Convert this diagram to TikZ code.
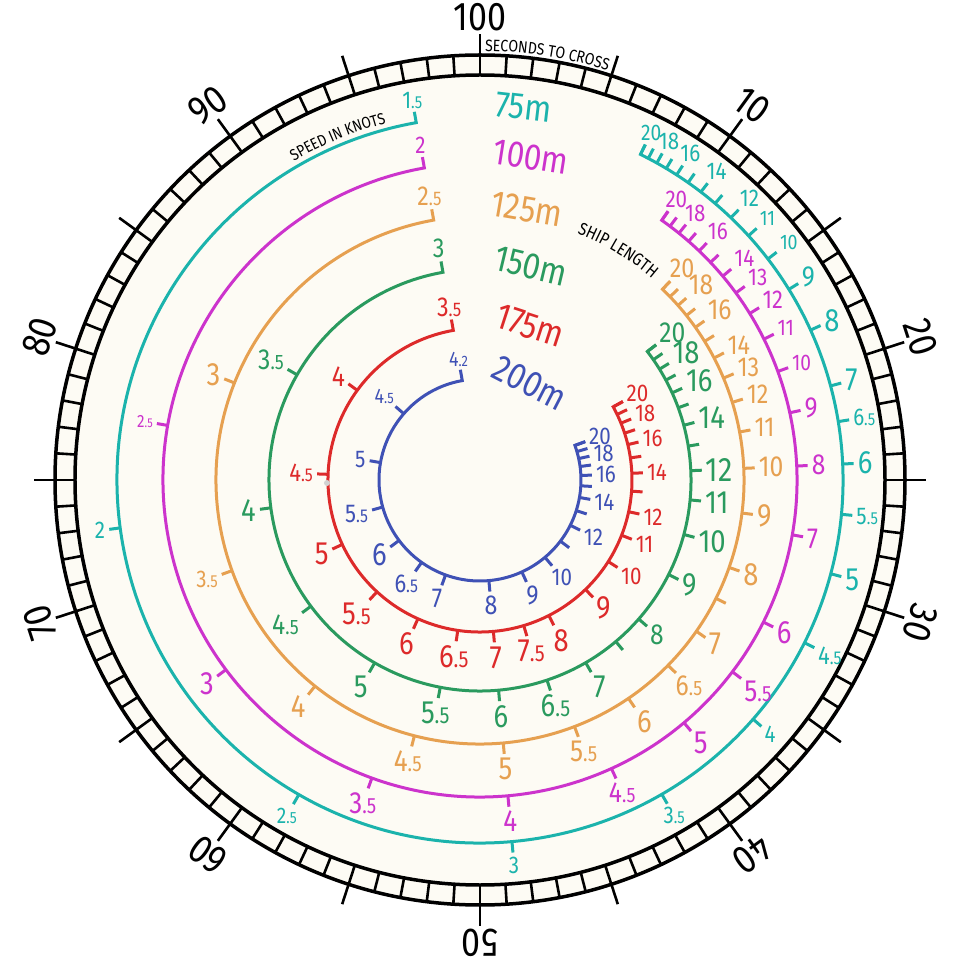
\documentclass[tikz,border=0pt]{standalone}
\usepackage{fontspec}
\setmainfont{Fira Sans}[FakeStretch=0.85]
\usetikzlibrary{decorations.text}
\definecolor{cteal}{HTML}{1BB3AC}
\definecolor{cmag}{HTML}{CC33CC}
\definecolor{corange}{HTML}{E6A050}
\definecolor{cgreen}{HTML}{2A9A5E}
\definecolor{cred}{HTML}{DD2A2A}
\definecolor{cblue}{HTML}{3F51B5}
\definecolor{cream}{HTML}{FDFBF4}
\newcommand\hf[1]{#1\scalebox{0.72}{.5}}
\newcommand\dd[2]{#1\scalebox{0.72}{.#2}}
\tikzset{
  arcln/.style={line width=3pt, line join=miter},
  lab/.style={inner sep=0pt},
  ringlab/.style={inner sep=0pt, font=\fontsize{40}{40}\selectfont},
  lenlab/.style={inner sep=0pt, font=\fontsize{37}{37}\selectfont}
}
\newcommand\shiparc[7]{%
  \pgfmathsetmacro\angS{90-3.6*#1/(#4*0.514444)}%
  \pgfmathsetmacro\angE{90-3.6*#1/(20*0.514444)}%
  \pgfmathsetmacro\ancS{mod(\angS+540,360)}%
  \pgfmathsetmacro\fsS{#6/0.62}%
  \draw[arcln, draw=#3] (\angS:{#2+11}) -- (\angS:#2) arc[start angle=\angS, end angle=\angE, radius=#2] -- (\angE:{#2+11});
  \node[lab, text=#3, anchor=\ancS, font=\fontsize{\fsS}{\fsS}\selectfont] (st#1) at (\angS:{#2+14}) {#5};
  \foreach \sv/\st/\ss [count=\ci] in {#7}{%
    \pgfmathsetmacro\myang{90-3.6*#1/(\sv*0.514444)}%
    \pgfmathsetmacro\myanc{mod(\myang+540,360)}%
    \pgfmathsetmacro\myfs{\ss/0.62}%
    \draw[arcln, draw=#3] (\myang:#2) -- (\myang:{#2+11});
    \node[lab, text=#3, anchor=\myanc, font=\fontsize{\myfs}{\myfs}\selectfont] (t#1-\ci) at (\myang:{#2+15}) {\st};
  }%
}
\begin{document}
\begin{tikzpicture}[x=1pt,y=1pt]
\useasboundingbox (-480,-480) rectangle (480,480);
\fill[cream] (0,0) circle[radius=425];
% ring
\foreach \k in {0,...,99} \draw[line width=2.6pt] ({90-3.6*\k}:404) -- ({90-3.6*\k}:426);
\draw[line width=3.5pt] (0,0) circle[radius=405];
\draw[line width=3.5pt] (0,0) circle[radius=425];
\foreach \k in {0,5,...,95} \draw[line width=2.6pt] ({90-3.6*\k}:425) -- ({90-3.6*\k}:446);
\foreach \k/\t in {0/100,1/10,2/20,3/30,4/40,5/50,6/60,7/70,8/80,9/90}
  \node[ringlab, rotate=-36*\k] (r\k) at ({90-36*\k}:463) {\t};
% titles
\path[decorate, decoration={text along path, text align=center,
  text={|\fontsize{16.5}{16.5}\selectfont|SECONDS TO CROSS}}]
  (90:429) arc[start angle=90, end angle=72, radius=429];
\path[decorate, decoration={text along path, text align=center,
  text={|\fontsize{16}{16}\selectfont|SPEED IN KNOTS}}]
  (122:369) arc[start angle=122, end angle=103, radius=369];
\path[decorate, decoration={text along path, text align=center,
  text={|\fontsize{17.5}{17.5}\selectfont|SHIP LENGTH}}]
  (71:265) arc[start angle=71, end angle=47, radius=265];
% arcs
\shiparc{75}{363}{cteal}{1.5}{\hf1}{15}{2/2/15, 2.5/\hf2/14, 3/3/15, 3.5/\hf3/15, 4/4/15, 4.5/\hf4/16, 5/5/20, 5.5/\hf5/15, 6/6/20, 6.5/\hf6/15, 7/7/20, 8/8/20, 9/9/18, 10/10/13, 11/11/13, 12/12/15, 13//10, 14/14/15, 15//10, 16/16/15, 17//10, 18/18/15, 19//10, 20/20/14}
\shiparc{100}{317}{cmag}{2}{2}{15}{2.5/\hf2/11, 3/3/20, 3.5/\hf3/19, 4/4/19, 4.5/\hf4/18, 5/5/20, 5.5/\hf5/19, 6/6/20, 7/7/18, 8/8/18, 9/9/18, 10/10/14, 11/11/14, 12/12/16, 13/13/15, 14/14/15, 15//10, 16/16/15, 17//10, 18/18/15, 19//10, 20/20/15}
\shiparc{125}{264}{corange}{2.5}{\hf2}{17}{3/3/20, 3.5/\hf3/15, 4/4/20, 4.5/\hf4/19, 5/5/20, 5.5/\hf5/19, 6/6/20, 6.5/\hf6/18, 7/7/20, 7.5//10, 8/8/20, 9/9/20, 10/10/18, 11/11/17, 12/12/17, 13/13/17, 14/14/17, 15//10, 16/16/18, 17//10, 18/18/18, 19//10, 20/20/17}
\shiparc{150}{211}{cgreen}{3}{3}{17}{3.5/\hf3/18, 4/4/20, 4.5/\hf4/18, 5/5/20, 5.5/\hf5/20, 6/6/20, 6.5/\hf6/20, 7/7/20, 7.5//10, 8/8/18, 9/9/20, 10/10/20, 11/11/20, 12/12/21, 13//10, 14/14/20, 15//10, 16/16/20, 17//10, 18/18/20, 19//10, 20/20/18}
\shiparc{175}{152}{cred}{3.5}{\hf3}{17}{4/4/18, 4.5/\hf4/16, 5/5/20, 5.5/\hf5/20, 6/6/20, 6.5/\hf6/20, 7/7/20, 7.5/\hf7/20, 8/8/20, 9/9/20, 10/10/15, 11/11/15, 12/12/15, 13//10, 14/14/15, 15//10, 16/16/15, 17//10, 18/18/15, 19//10, 20/20/15}
\shiparc{200}{101}{cblue}{4.0}{\dd42}{13}{4.5/\hf4/13, 5/5/15, 5.5/\hf5/16, 6/6/20, 6.5/\hf6/16, 7/7/17, 8/8/17, 9/9/17, 10/10/15, 11//10, 12/12/15, 13//10, 14/14/15, 15//10, 16/16/15, 17//10, 18/18/15, 19//10, 20/20/15}
% ship length labels
\node[lenlab, text=cteal, rotate=-6.7] (L75) at (83.3:375) {75m};
\node[lenlab, text=cmag, rotate=-9] (L100) at (81:327) {100m};
\node[lenlab, text=corange, rotate=-9.8] (L125) at (80.2:275) {125m};
\node[lenlab, text=cgreen, rotate=-13.4] (L150) at (76.6:220) {150m};
\node[lenlab, text=cred, rotate=-18] (L175) at (72:162) {175m};
\node[lenlab, text=cblue, rotate=-27.3] (L200) at (62.7:109) {200m};
% small grey dot
\fill[gray!35] (-153,-3) circle[radius=3];
\end{tikzpicture}
\end{document}
